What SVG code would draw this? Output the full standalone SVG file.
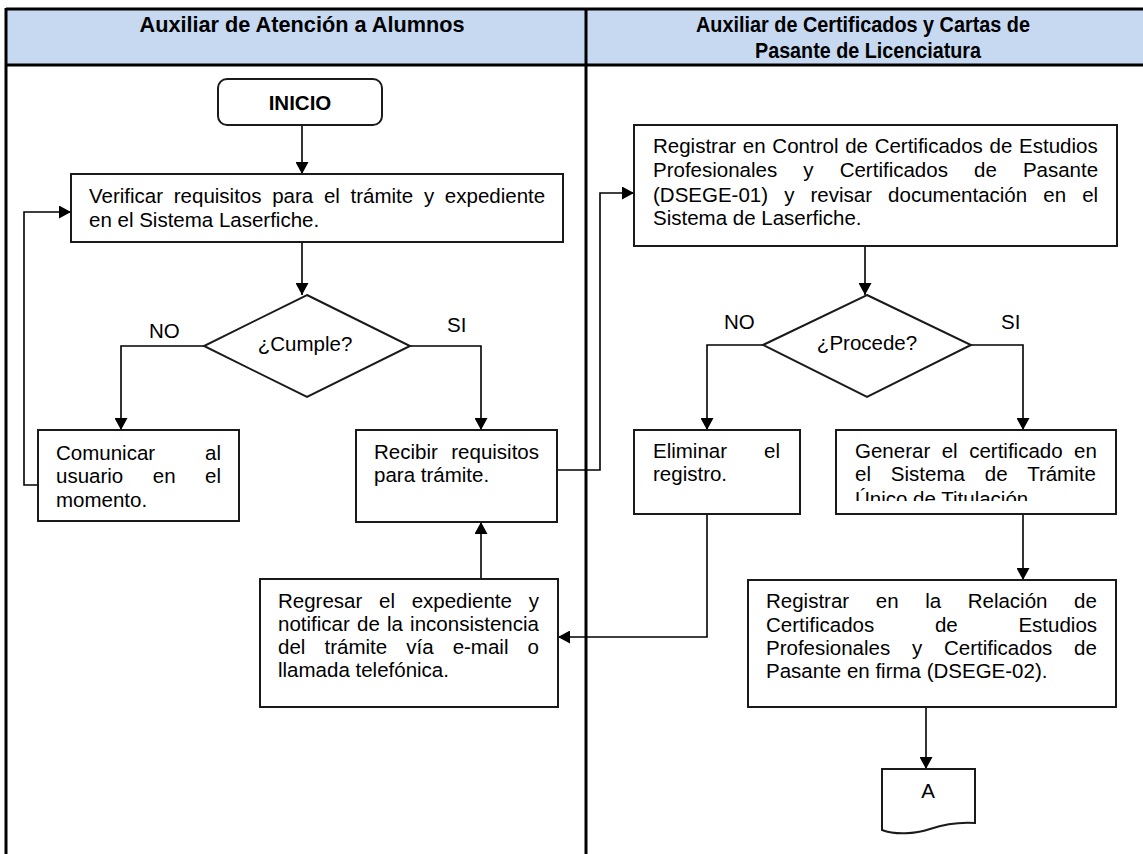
<svg xmlns="http://www.w3.org/2000/svg" width="1143" height="854" viewBox="0 0 1143 854">
  <style>
    .lane { stroke: #000; stroke-width: 3; fill: none; }
    .box { fill: #fff; stroke: #1a1a1a; stroke-width: 2; }
    .conn { fill: none; stroke: #000; stroke-width: 1.6; }
    .t { font-family: "Liberation Sans", Arial, sans-serif; font-size: 20.5px; fill: #000; }
    .h { font-family: "Liberation Sans", Arial, sans-serif; font-size: 22.5px; font-weight: bold; fill: #000; text-anchor: middle; }
    .c { text-anchor: middle; }
    .b { font-weight: bold; }
  </style>
  <defs>
    <marker id="arrow" markerUnits="userSpaceOnUse" markerWidth="13" markerHeight="13" refX="12" refY="6.5" orient="auto">
      <path d="M0,0 L12,6.5 L0,13 Z" fill="#000"/>
    </marker>
    <clipPath id="clipGenerar">
      <rect x="837" y="431" width="278" height="70"/>
    </clipPath>
  </defs>

  <rect width="1143" height="854" fill="#fff"/>

  <!-- swimlane header and lane borders -->
  <g id="lanes">
    <rect x="6" y="9" width="1140" height="56" fill="#c6d9f1"/>
    <line class="lane" x1="6" y1="9" x2="1143" y2="9"/>
    <line class="lane" x1="6" y1="65" x2="1143" y2="65"/>
    <line class="lane" x1="6" y1="8" x2="6" y2="854"/>
    <line class="lane" x1="586" y1="8" x2="586" y2="854"/>
    <text class="h" x="302" y="32" textLength="325" lengthAdjust="spacingAndGlyphs">Auxiliar de Atención a Alumnos</text>
    <text class="h" x="863" y="32" textLength="334" lengthAdjust="spacingAndGlyphs">Auxiliar de Certificados y Cartas de</text>
    <text class="h" x="868" y="58" textLength="226" lengthAdjust="spacingAndGlyphs">Pasante de Licenciatura</text>
  </g>

  <!-- connectors -->
  <g id="connectors">
    <path class="conn" d="M302,125 V174" marker-end="url(#arrow)"/>
    <path class="conn" d="M302,242 V295" marker-end="url(#arrow)"/>
    <path class="conn" d="M204,346 H121 V430" marker-end="url(#arrow)"/>
    <path class="conn" d="M410,346 H481 V430" marker-end="url(#arrow)"/>
    <path class="conn" d="M38,485 H24 V212 H71" marker-end="url(#arrow)"/>
    <path class="conn" d="M557,470 H600 V193 H634" marker-end="url(#arrow)"/>
    <path class="conn" d="M865,246 V295" marker-end="url(#arrow)"/>
    <path class="conn" d="M763,345 H707 V430" marker-end="url(#arrow)"/>
    <path class="conn" d="M971,345 H1023 V430" marker-end="url(#arrow)"/>
    <path class="conn" d="M707,514 V637 H558" marker-end="url(#arrow)"/>
    <path class="conn" d="M481,579 V522" marker-end="url(#arrow)"/>
    <path class="conn" d="M1023,514 V580" marker-end="url(#arrow)"/>
    <path class="conn" d="M926,707 V769" marker-end="url(#arrow)"/>
  </g>

  <!-- decision labels -->
  <g id="labels">
    <text class="t" x="149" y="338">NO</text>
    <text class="t" x="447" y="332">SI</text>
    <text class="t" x="724" y="329">NO</text>
    <text class="t" x="1001" y="329">SI</text>
  </g>

  <g id="inicio">
    <rect class="box" x="218" y="79" width="164" height="46" rx="9" ry="9"/>
    <text class="t c b" x="300" y="110">INICIO</text>
  </g>

  <g id="verificar">
    <rect class="box" x="71" y="174" width="492" height="68"/>
    <text class="t" x="89" y="203" word-spacing="5">Verificar requisitos para el trámite y expediente</text>
    <text class="t" x="89" y="227">en el Sistema Laserfiche.</text>
  </g>

  <g id="cumple">
    <polygon class="box" points="307,295 410,346 307,397 204,346"/>
    <text class="t c" x="305" y="351">¿Cumple?</text>
  </g>

  <g id="comunicar">
    <rect class="box" x="38" y="430" width="201" height="91"/>
    <text class="t" x="56" y="460" word-spacing="44.3">Comunicar al</text>
    <text class="t" x="56" y="483" word-spacing="23.8">usuario en el</text>
    <text class="t" x="56" y="507">momento.</text>
  </g>

  <g id="recibir">
    <rect class="box" x="356" y="430" width="201" height="92"/>
    <text class="t" x="374" y="459" word-spacing="7.8">Recibir requisitos</text>
    <text class="t" x="374" y="482">para trámite.</text>
  </g>

  <g id="regresar">
    <rect class="box" x="260" y="579" width="298" height="128"/>
    <text class="t" x="278" y="608" word-spacing="11">Regresar el expediente y</text>
    <text class="t" x="278" y="631" word-spacing="1.5">notificar de la inconsistencia</text>
    <text class="t" x="278" y="654" word-spacing="13.4">del trámite vía e-mail o</text>
    <text class="t" x="278" y="677">llamada telefónica.</text>
  </g>

  <g id="registrar-control">
    <rect class="box" x="634" y="125" width="483" height="121"/>
    <text class="t" x="653" y="153" word-spacing="1">Registrar en Control de Certificados de Estudios</text>
    <text class="t" x="653" y="177" word-spacing="20.4">Profesionales y Certificados de Pasante</text>
    <text class="t" x="653" y="202" word-spacing="10.4">(DSEGE-01) y revisar documentación en el</text>
    <text class="t" x="653" y="225">Sistema de Laserfiche.</text>
  </g>

  <g id="procede">
    <polygon class="box" points="867,295 971,345 867,397 763,345"/>
    <text class="t c" x="867" y="350">¿Procede?</text>
  </g>

  <g id="eliminar">
    <rect class="box" x="634" y="430" width="166" height="84"/>
    <text class="t" x="653" y="458" word-spacing="31.3">Eliminar el</text>
    <text class="t" x="653" y="481">registro.</text>
  </g>

  <g id="generar">
    <rect class="box" x="836" y="430" width="280" height="84"/>
    <g clip-path="url(#clipGenerar)">
      <text class="t" x="855" y="458" word-spacing="5.8">Generar el certificado en</text>
      <text class="t" x="855" y="481" word-spacing="14.2">el Sistema de Trámite</text>
      <text class="t" x="855" y="506">Único de Titulación</text>
    </g>
  </g>

  <g id="registrar-relacion">
    <rect class="box" x="748" y="580" width="368" height="127"/>
    <text class="t" x="766" y="608" word-spacing="20.9">Registrar en la Relación de</text>
    <text class="t" x="766" y="632" word-spacing="55">Certificados de Estudios</text>
    <text class="t" x="766" y="655" word-spacing="16.1">Profesionales y Certificados de</text>
    <text class="t" x="766" y="678">Pasante en firma (DSEGE-02).</text>
  </g>

  <g id="documento-a">
    <path class="box" d="M882,769 H975 V823 C960,822 945,824 930,829 C915,834 895,835 882,830 Z"/>
    <text class="t c" x="928" y="798">A</text>
  </g>
</svg>
